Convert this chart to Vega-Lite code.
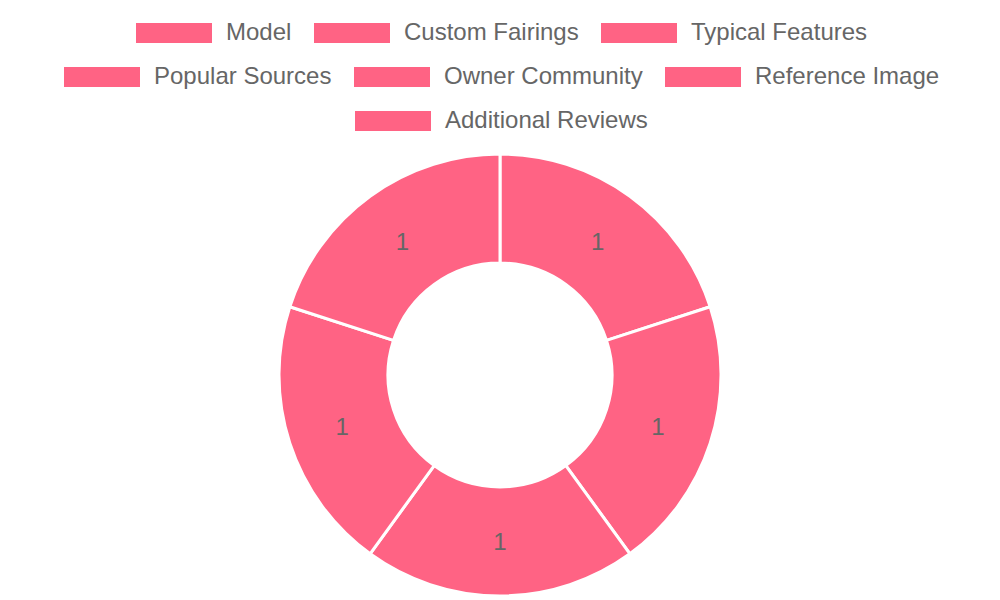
{
  "$schema": "https://vega.github.io/schema/vega-lite/v6.json",
  "width": 1000,
  "height": 450,
  "autosize": "none",
  "padding": {"left": 0, "right": 0, "top": 150, "bottom": 0},
  "background": "white",
  "config": {"view": {"stroke": null}},
  "data": {
    "values": [
      {"label": "Model", "value": 1, "row": 1},
      {"label": "Custom Fairings", "value": 1, "row": 1},
      {"label": "Typical Features", "value": 1, "row": 1},
      {"label": "Popular Sources", "value": 1, "row": 2},
      {"label": "Owner Community", "value": 1, "row": 2},
      {"label": "Reference Image", "value": null, "row": 2},
      {"label": "Additional Reviews", "value": null, "row": 3}
    ]
  },
  "layer": [
    {
      "transform": [{"filter": "datum.value != null"}],
      "mark": {"type": "arc", "outerRadius": 221, "innerRadius": 112, "fill": "#FF6384", "stroke": "white", "strokeWidth": 3},
      "encoding": {
        "theta": {"field": "value", "type": "quantitative", "stack": true}
      }
    },
    {
      "transform": [{"filter": "datum.value != null"}],
      "mark": {"type": "text", "radius": 166, "dy": 2, "fontSize": 24, "font": "Liberation Sans", "color": "#666666"},
      "encoding": {
        "theta": {"field": "value", "type": "quantitative", "stack": true},
        "text": {"field": "value", "type": "quantitative"}
      }
    },
    {
      "transform": [{"filter": "datum.row == 1"}],
      "mark": {"type": "point", "filled": true, "opacity": 0},
      "encoding": {
        "color": {
          "field": "label", "type": "nominal",
          "scale": {"domain": ["Model", "Custom Fairings", "Typical Features"], "range": ["#FF6384", "#FF6384", "#FF6384"]},
          "legend": {"orient": "none", "legendX": 136, "legendY": -155, "direction": "horizontal", "title": null,
            "symbolType": "M-1,-0.263H1V0.263H-1Z", "symbolSize": 5776, "symbolOpacity": 1, "symbolStrokeWidth": 0,
            "labelFontSize": 24, "labelFont": "Liberation Sans", "labelColor": "#666666", "labelOffset": 14, "columnPadding": 22, "labelLimit": 0}
        }
      }
    },
    {
      "transform": [{"filter": "datum.row == 2"}],
      "mark": {"type": "point", "filled": true, "opacity": 0},
      "encoding": {
        "color": {
          "field": "label", "type": "nominal",
          "scale": {"domain": ["Popular Sources", "Owner Community", "Reference Image"], "range": ["#FF6384", "#FF6384", "#FF6384"]},
          "legend": {"orient": "none", "legendX": 64, "legendY": -111, "direction": "horizontal", "title": null,
            "symbolType": "M-1,-0.263H1V0.263H-1Z", "symbolSize": 5776, "symbolOpacity": 1, "symbolStrokeWidth": 0,
            "labelFontSize": 24, "labelFont": "Liberation Sans", "labelColor": "#666666", "labelOffset": 14, "columnPadding": 22, "labelLimit": 0}
        }
      }
    },
    {
      "transform": [{"filter": "datum.row == 3"}],
      "mark": {"type": "point", "filled": true, "opacity": 0},
      "encoding": {
        "color": {
          "field": "label", "type": "nominal",
          "scale": {"domain": ["Additional Reviews"], "range": ["#FF6384"]},
          "legend": {"orient": "none", "legendX": 355, "legendY": -67, "direction": "horizontal", "title": null,
            "symbolType": "M-1,-0.263H1V0.263H-1Z", "symbolSize": 5776, "symbolOpacity": 1, "symbolStrokeWidth": 0,
            "labelFontSize": 24, "labelFont": "Liberation Sans", "labelColor": "#666666", "labelOffset": 14, "columnPadding": 22, "labelLimit": 0}
        }
      }
    }
  ],
  "resolve": {"scale": {"color": "independent"}, "legend": {"color": "independent"}}
}
